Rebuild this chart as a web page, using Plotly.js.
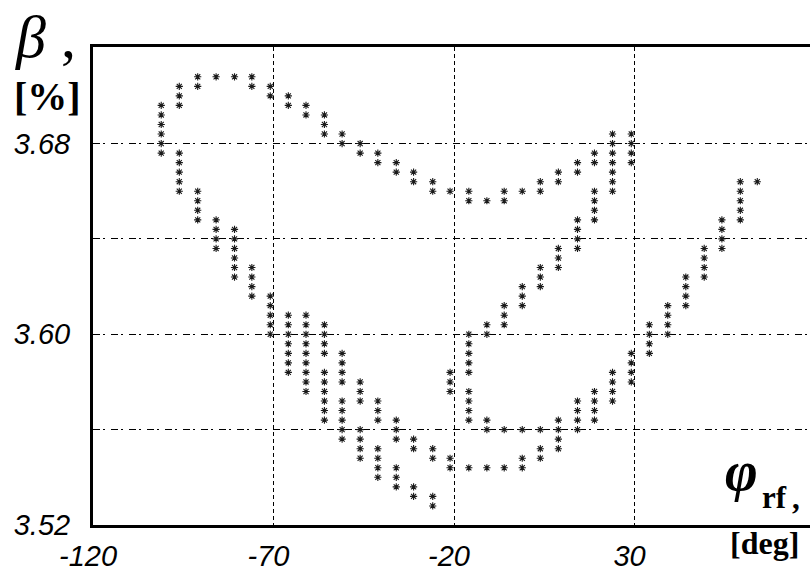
<!DOCTYPE html>
<html>
<head>
<meta charset="utf-8">
<script src="https://cdn.plot.ly/plotly-3.0.1.min.js"></script>
<style>html,body{margin:0;padding:0;background:#fff;}#chart{width:810px;height:575px;}</style>
</head>
<body>
<div id="chart"></div>
<script>
// Phase of the rf field (deg) for each column of points
const phiColumns = [-101.1, -96.1, -91.0, -85.9, -80.8, -76.0, -70.9, -65.9, -61.0, -55.9,
  -51.0, -46.0, -41.1, -36.0, -31.2, -25.9, -21.1, -15.9, -10.9, -6.1,
  -1.1, 3.9, 8.9, 14.2, 18.9, 23.9, 29.1, 34.1, 39.2, 44.2,
  49.3, 54.2, 59.3, 64.0];

// beta (%) values plotted in each column
const betaByColumn = [
  [3.676, 3.680, 3.684, 3.688, 3.692, 3.696],
  [3.660, 3.664, 3.668, 3.672, 3.676, 3.696, 3.700, 3.704],
  [3.648, 3.652, 3.656, 3.660, 3.704, 3.708],
  [3.636, 3.640, 3.644, 3.648, 3.708],
  [3.624, 3.628, 3.632, 3.636, 3.640, 3.644, 3.708],
  [3.616, 3.620, 3.624, 3.628, 3.704, 3.708],
  [3.600, 3.604, 3.608, 3.612, 3.616, 3.700, 3.704],
  [3.584, 3.588, 3.592, 3.596, 3.600, 3.604, 3.608, 3.696, 3.700],
  [3.576, 3.580, 3.584, 3.588, 3.592, 3.596, 3.600, 3.604, 3.608, 3.692, 3.696],
  [3.564, 3.568, 3.572, 3.576, 3.580, 3.584, 3.592, 3.596, 3.600, 3.604, 3.684, 3.688, 3.692],
  [3.556, 3.560, 3.564, 3.568, 3.572, 3.580, 3.584, 3.588, 3.592, 3.680, 3.684],
  [3.548, 3.552, 3.556, 3.560, 3.572, 3.576, 3.580, 3.676, 3.680],
  [3.540, 3.544, 3.548, 3.552, 3.564, 3.568, 3.572, 3.672, 3.676],
  [3.536, 3.540, 3.544, 3.556, 3.560, 3.564, 3.668, 3.672],
  [3.532, 3.536, 3.552, 3.556, 3.664, 3.668],
  [3.528, 3.532, 3.548, 3.552, 3.660, 3.664],
  [3.544, 3.548, 3.576, 3.580, 3.584, 3.660],
  [3.544, 3.564, 3.568, 3.572, 3.576, 3.584, 3.588, 3.592, 3.596, 3.600, 3.656, 3.660],
  [3.544, 3.560, 3.564, 3.600, 3.604, 3.656],
  [3.544, 3.560, 3.604, 3.608, 3.612, 3.656, 3.660],
  [3.544, 3.548, 3.560, 3.612, 3.616, 3.620, 3.660],
  [3.548, 3.552, 3.560, 3.620, 3.624, 3.628, 3.660, 3.664],
  [3.552, 3.556, 3.560, 3.564, 3.628, 3.632, 3.636, 3.664, 3.668],
  [3.560, 3.564, 3.568, 3.572, 3.636, 3.640, 3.644, 3.648, 3.668, 3.672],
  [3.564, 3.568, 3.572, 3.576, 3.648, 3.652, 3.656, 3.660, 3.672, 3.676],
  [3.572, 3.576, 3.580, 3.584, 3.660, 3.664, 3.668, 3.672, 3.676, 3.680, 3.684],
  [3.580, 3.584, 3.588, 3.592, 3.672, 3.676, 3.680, 3.684],
  [3.592, 3.596, 3.600, 3.604],
  [3.600, 3.604, 3.608, 3.612],
  [3.612, 3.616, 3.620, 3.624],
  [3.624, 3.628, 3.632, 3.636],
  [3.636, 3.640, 3.644, 3.648],
  [3.648, 3.652, 3.656, 3.660, 3.664],
  [3.664]
];

// Axis ticks
const xTickVals = [-120, -70, -20, 30];
const xTickText = ['-120', '-70', '-20', '30'];
const yTickVals = [3.52, 3.56, 3.60, 3.64, 3.68];
const yTickText = ['3.52', '', '3.60', '', '3.68'];

// Expand the columns into point lists
const xs = [], ys = [];
phiColumns.forEach((phi, i) => {
  betaByColumn[i].forEach(b => { xs.push(phi); ys.push(b); });
});

const tickFont = {family: 'Liberation Sans, Arial, sans-serif', size: 29, color: '#000', style: 'italic'};
const serif = 'Liberation Serif, Times New Roman, serif';

const trace = {
  x: xs, y: ys, type: 'scatter', mode: 'markers',
  marker: {symbol: 'asterisk-open', size: 6, color: '#1a1a1a', line: {width: 1.1, color: '#1a1a1a'}},
  hoverinfo: 'skip', showlegend: false, cliponaxis: false
};

const layout = {
  width: 810, height: 575,
  margin: {l: 93, r: 0, t: 47, b: 50},
  paper_bgcolor: '#fff', plot_bgcolor: '#fff',
  showlegend: false,
  xaxis: {
    range: [-120, 78.6], tickvals: xTickVals, ticktext: xTickText,
    showgrid: true, gridcolor: '#000', gridwidth: 1, griddash: '4px,3px',
    showline: true, linecolor: '#000', linewidth: 3, mirror: true,
    zeroline: false, ticks: '', tickfont: tickFont, ticklabelstandoff: 3, ticklabelshift: -5,
    fixedrange: true
  },
  yaxis: {
    range: [3.52, 3.7205], tickvals: yTickVals, ticktext: yTickText,
    showgrid: true, gridcolor: '#000', gridwidth: 1, griddash: '7px,3px,2px,6px',
    showline: true, linecolor: '#000', linewidth: 3, mirror: false,
    zeroline: false, ticks: '', tickfont: tickFont, ticklabelstandoff: 14,
    fixedrange: true
  },
  annotations: [
    {xref: 'paper', yref: 'paper', x: -0.112, y: 1.02, xanchor: 'left', yanchor: 'middle',
     text: '<i>β</i> ,', showarrow: false, font: {family: serif, size: 60, color: '#000'}},
    {xref: 'paper', yref: 'paper', x: -0.064, y: 0.897, xanchor: 'center', yanchor: 'middle',
     text: '<b>[%]</b>', showarrow: false, font: {family: serif, size: 40, color: '#000'}},
    {xref: 'paper', yref: 'paper', x: 0.905, y: 0.112, xanchor: 'center', yanchor: 'middle',
     text: '<b><i>φ</i></b>', showarrow: false, font: {family: serif, size: 56, color: '#000'}},
    {xref: 'paper', yref: 'paper', x: 0.950, y: 0.058, xanchor: 'center', yanchor: 'middle',
     text: '<b>rf</b>', showarrow: false, font: {family: serif, size: 31, color: '#000'}},
    {xref: 'paper', yref: 'paper', x: 0.980, y: 0.055, xanchor: 'center', yanchor: 'middle',
     text: '<b>,</b>', showarrow: false, font: {family: serif, size: 31, color: '#000'}},
    {xref: 'paper', yref: 'paper', x: 0.936, y: -0.038, xanchor: 'center', yanchor: 'middle',
     text: '<b>[deg]</b>', showarrow: false, font: {family: serif, size: 32, color: '#000'}}
  ]
};

Plotly.newPlot('chart', [trace], layout, {displayModeBar: false, staticPlot: true});
</script>
</body>
</html>
